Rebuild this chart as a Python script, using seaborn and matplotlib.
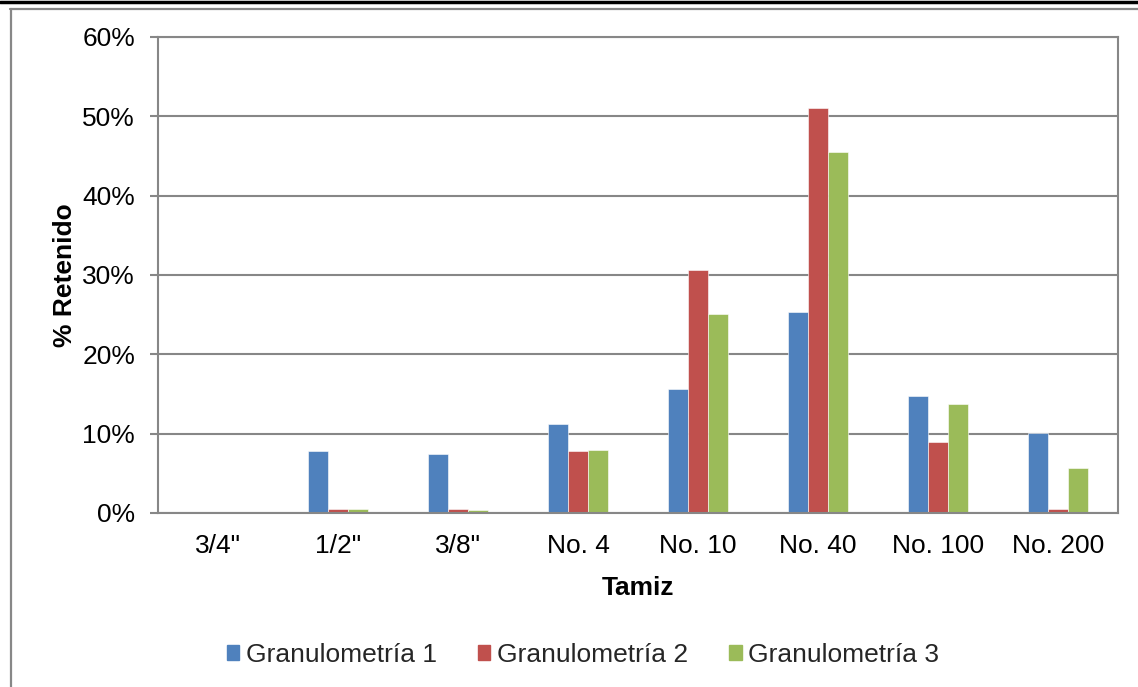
import matplotlib
matplotlib.use("Agg")
import matplotlib.pyplot as plt
import seaborn as sns
import pandas as pd
from matplotlib.lines import Line2D
from matplotlib.ticker import FuncFormatter

categories = ['3/4"', '1/2"', '3/8"', 'No. 4', 'No. 10', 'No. 40', 'No. 100', 'No. 200']
series_names = ["Granulometría 1", "Granulometría 2", "Granulometría 3"]
g1 = [0.0, 7.85, 7.5, 11.2, 15.6, 25.3, 14.7, 10.1]
g2 = [0.0, 0.45, 0.45, 7.8, 30.6, 51.0, 8.9, 0.45]
g3 = [0.0, 0.5, 0.4, 8.0, 25.1, 45.5, 13.8, 5.7]
colors = ["#4F81BD", "#C0504D", "#9BBB59"]

rows = []
for name, vals in zip(series_names, [g1, g2, g3]):
    for c, v in zip(categories, vals):
        rows.append({"Tamiz": c, "val": v / 100.0, "serie": name})
df = pd.DataFrame(rows)

sns.set_theme(style="white")
plt.rcParams['font.family'] = ['Liberation Sans', 'DejaVu Sans']

fig = plt.figure(figsize=(11.38, 6.87), dpi=100)
ax = fig.add_axes([158/1138, 1-513/687, (1118-158)/1138, (513-37)/687])

sns.barplot(data=df, x="Tamiz", y="val", hue="serie", order=categories,
            hue_order=series_names, palette=colors, width=0.5, dodge=True,
            saturation=1, edgecolor="white", linewidth=0.4, ax=ax, legend=False,
            errorbar=None)

grid_c = "#878787"
ax.set_ylim(0, 0.6)
ax.set_xlim(-0.5, len(categories) - 0.5)
ax.set_yticks([0, 0.1, 0.2, 0.3, 0.4, 0.5, 0.6])
ax.yaxis.set_major_formatter(FuncFormatter(lambda v, p: f"{v*100:.0f}%"))
ax.yaxis.grid(True, color=grid_c, linewidth=1.5)
ax.set_axisbelow(True)
for s in ax.spines.values():
    s.set_color(grid_c)
    s.set_linewidth(1.5)
ax.tick_params(axis="y", which="major", left=True, length=6, width=1.5, color=grid_c,
               labelsize=19, pad=10.5, labelcolor="black")
ax.tick_params(axis="x", length=0, labelsize=19, pad=15, labelcolor="black")
ax.set_xlabel("Tamiz", fontsize=19, fontweight="bold", labelpad=13, color="black")
ax.set_ylabel("% Retenido", fontsize=19, fontweight="bold", labelpad=4, color="black")

handles = [plt.Rectangle((0, 0), 1, 1, color=c) for c in colors]
fig.legend(handles, series_names, loc="center", bbox_to_anchor=(583/1138, 1-655/687),
           ncol=3, frameon=False, fontsize=19, handlelength=0.48, handleheight=0.48,
           handletextpad=0.25, columnspacing=1.55)

# outer chart border decorations
fig.add_artist(Line2D([0, 1], [1-1.5/687, 1-1.5/687], color="black", linewidth=2.5,
                      transform=fig.transFigure))
fig.add_artist(Line2D([10/1138, 1], [1-8.5/687, 1-8.5/687], color=grid_c, linewidth=1.6,
                      transform=fig.transFigure))
fig.add_artist(Line2D([10.5/1138, 10.5/1138], [0, 1-8.5/687], color=grid_c, linewidth=1.6,
                      transform=fig.transFigure))

fig.savefig("out.png", dpi=100)
